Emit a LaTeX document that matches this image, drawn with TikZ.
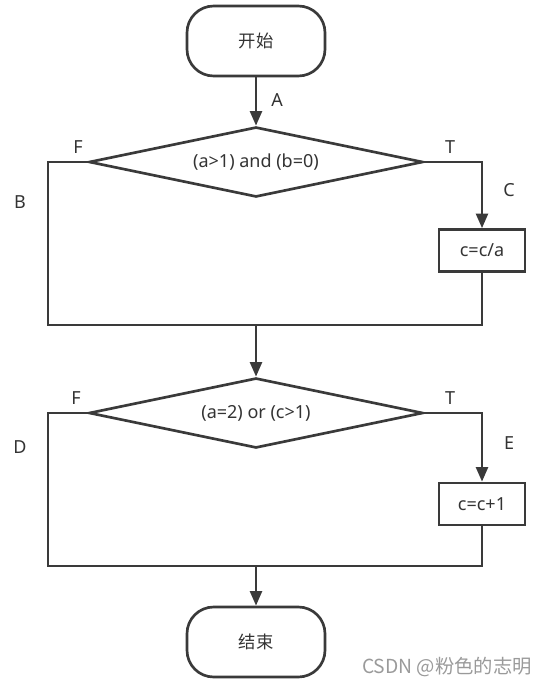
\documentclass[tikz,border=0pt]{standalone}
\usepackage{fontspec}
\setmainfont{Noto Sans}
\newfontfamily\cjk{Noto Sans CJK SC}
\usetikzlibrary{shapes.geometric,arrows.meta}
\definecolor{ln}{HTML}{3A3A3A}
\definecolor{tx}{HTML}{333333}
\definecolor{wm}{HTML}{9A9A9A}
\tikzset{
  term/.style={draw=ln,line width=2pt,rounded corners=20pt,minimum width=138*0.75pt,minimum height=70*0.75pt,inner sep=0pt,text=tx,font=\cjk\fontsize{13}{15}\selectfont},
  cond/.style={draw=ln,line width=2pt,shape=diamond,aspect=4.77,minimum width=334*0.75pt,minimum height=70*0.75pt,inner sep=0pt,text=tx,font=\fontsize{13.5}{15}\selectfont},
  proc/.style={draw=ln,line width=2pt,minimum width=86*0.75pt,minimum height=42*0.75pt,inner sep=0pt,text=tx,font=\fontsize{13.5}{15}\selectfont},
  lbl/.style={text=tx,inner sep=0pt,font=\fontsize{13.5}{15}\selectfont},
  conn/.style={draw=ln,line width=2pt},
  arr/.style={conn,-{Triangle[length=11pt,width=9pt]}},
}
\begin{document}
\begin{tikzpicture}[x=0.75pt,y=-0.75pt]
\useasboundingbox (0,0) rectangle (548,685);
\node[term] (start) at (256,41) {开始};
\node[cond] (d1) at (256,162) {(a>1) and (b=0)};
\node[proc] (p1) at (482,250.5) {c=c/a};
\node[cond] (d2) at (256,413) {(a=2) or (c>1)};
\node[proc] (p2) at (482,504) {c=c+1};
\node[term] (end) at (256,642) {结束};
\coordinate (m1) at (256,325);
\coordinate (m2) at (256,566);
\coordinate (l1) at (48,162);
\coordinate (r1) at (482,162);
\coordinate (l2) at (48,413);
\coordinate (r2) at (482,413);
\draw[arr] (start) -- (d1.north);
\draw[conn] (d1.west) -- (l1) |- (m1);
\draw[arr] (d1.east) -- (r1) -- (p1.north);
\draw[conn] (p1.south) |- (m1);
\draw[arr] (m1) -- (d2.north);
\draw[conn] (d2.west) -- (l2) |- (m2);
\draw[arr] (d2.east) -- (r2) -- (p2.north);
\draw[conn] (p2.south) |- (m2);
\draw[arr] (m2) -- (end.north);
\node[lbl] (la) at (277,100) {A};
\node[lbl] (lf1) at (78,147) {F};
\node[lbl] (lt1) at (450,147) {T};
\node[lbl] (lb) at (20,202) {B};
\node[lbl] (lc) at (509,190) {C};
\node[lbl] (lf2) at (76,398) {F};
\node[lbl] (lt2) at (450,398) {T};
\node[lbl] (ld) at (20,447) {D};
\node[lbl] (le) at (509,443) {E};
\node[text=wm,inner sep=0pt,font=\cjk\fontsize{14.5}{16}\selectfont] (wmk) at (447,667) {CSDN @粉色的志明};
\end{tikzpicture}
\end{document}
